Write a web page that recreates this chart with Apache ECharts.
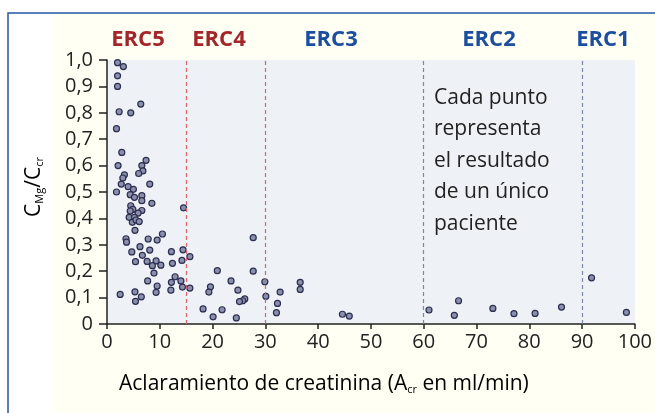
<!DOCTYPE html>
<html>
<head>
<meta charset="utf-8">
<script src="https://cdn.jsdelivr.net/npm/echarts@6/dist/echarts.min.js"></script>
<style>html,body{margin:0;padding:0;background:#fff}#c{width:655px;height:413px}</style>
</head>
<body>
<div id="c"></div>
<script>
// Creatinine clearance (ml/min) for each patient
const clearance = [
  2.0, 3.1, 2.0, 2.0, 6.4, 2.3, 4.5, 1.8, 2.8, 7.4,
  2.1, 6.6, 6.8, 3.3, 6.0, 3.0, 8.1, 2.7, 4.0, 5.0,
  1.8, 4.4, 5.2, 6.6, 6.6, 8.5, 4.5, 4.9, 4.4, 6.6,
  5.9, 14.5, 4.2, 5.2, 4.8, 5.5, 6.1, 5.3, 10.5, 7.8,
  9.5, 3.6, 3.7, 6.25, 8.1, 4.7, 12.2, 14.4, 6.7, 15.7,
  5.4, 7.6, 9.3, 12.4, 14.2, 8.6, 10.2, 8.9, 12.9, 7.7,
  12.2, 14.0, 9.5, 14.3, 15.7, 12.1, 9.3, 5.3, 2.5, 6.5,
  5.4, 18.2, 27.7, 20.9, 27.7, 23.5, 29.9, 36.6, 36.6, 19.6,
  19.3, 24.8, 32.8, 30.1, 26.1, 25.7, 25.1, 32.3, 21.8, 32.1,
  20.1, 24.5, 44.6, 45.9, 91.8, 61.0, 66.6, 65.8, 73.1, 77.1,
  81.1, 86.1, 98.4
];
// CMg/Ccr ratio for each patient
const ratio = [
  0.99, 0.975, 0.94, 0.90, 0.833, 0.804, 0.80, 0.74, 0.65, 0.62,
  0.60, 0.60, 0.58, 0.565, 0.57, 0.553, 0.53, 0.53, 0.52, 0.51,
  0.50, 0.49, 0.48, 0.486, 0.467, 0.457, 0.448, 0.434, 0.428, 0.43,
  0.42, 0.44, 0.404, 0.404, 0.385, 0.394, 0.388, 0.355, 0.341, 0.322,
  0.318, 0.323, 0.31, 0.293, 0.28, 0.273, 0.274, 0.281, 0.26, 0.255,
  0.236, 0.237, 0.239, 0.23, 0.241, 0.221, 0.223, 0.193, 0.179, 0.163,
  0.158, 0.163, 0.144, 0.14, 0.136, 0.128, 0.12, 0.122, 0.112, 0.103,
  0.086, 0.057, 0.327, 0.202, 0.20, 0.163, 0.16, 0.158, 0.131, 0.141,
  0.121, 0.128, 0.121, 0.105, 0.095, 0.088, 0.085, 0.078, 0.054, 0.043,
  0.027, 0.023, 0.037, 0.03, 0.175, 0.053, 0.088, 0.033, 0.059, 0.039,
  0.04, 0.064, 0.044
];
// Stage boundaries and labels
const stageLimits = [15, 30, 60, 90];
const stageNames = ['ERC5', 'ERC4', 'ERC3', 'ERC2', 'ERC1'];
const stageLabelX = [138, 219, 331, 489, 603];
const stageColors = ['#a3262a', '#a3262a', '#1c4e9e', '#1c4e9e', '#1c4e9e'];
const limitColors = ['#d9646b', '#d9646b', '#7c87a6', '#7c87a6'];
const noteLines = ['Cada punto', 'representa', 'el resultado', 'de un único', 'paciente'];

const FONT = '"Open Sans", "Noto Sans", sans-serif';
const points = clearance.map((x, i) => [x, ratio[i]]);

const graphics = [
  {type: 'rect', z: -10, shape: {x: 0, y: 0, width: 655, height: 413}, style: {fill: '#ffffff'}},
  {type: 'rect', z: -9, shape: {x: 53, y: 14, width: 610, height: 410}, style: {fill: '#fffff3'}},
  {type: 'rect', z: -8, shape: {x: 8, y: 13, width: 700, height: 500}, style: {fill: 'none', stroke: '#2557a7', lineWidth: 1.5}}
];
stageNames.forEach((n, i) => {
  graphics.push({type: 'text', z: 50, x: stageLabelX[i], y: 40,
    style: {text: n, font: 'bold 22px ' + FONT, fill: stageColors[i], textAlign: 'center', textVerticalAlign: 'middle'}});
});
graphics.push({type: 'text', z: 50, x: 434, y: 82,
  style: {text: noteLines.join('\n'), font: '21px ' + FONT, fill: '#222', lineHeight: 31.5,
    textAlign: 'left', textVerticalAlign: 'top'}});
graphics.push({type: 'text', z: 50, x: 119, y: 383,
  style: {
    text: '{m|Aclaramiento de creatinina (A}{s|cr}{m| en ml/min)}',
    rich: {
      m: {fontSize: 21, fontFamily: FONT, color: '#222', lineHeight: 24, verticalAlign: 'bottom'},
      s: {fontSize: 11, fontFamily: FONT, color: '#222', lineHeight: 8, verticalAlign: 'bottom'}
    },
    textAlign: 'left', textVerticalAlign: 'middle'
  }});
graphics.push({type: 'text', z: 50, x: 33, y: 187, rotation: Math.PI / 2,
  style: {
    text: '{m|C}{s|Mg}{m|/C}{s|cr}',
    rich: {
      m: {fontSize: 21, fontFamily: FONT, color: '#222', lineHeight: 24, verticalAlign: 'bottom'},
      s: {fontSize: 11, fontFamily: FONT, color: '#222', lineHeight: 7, verticalAlign: 'bottom'}
    },
    textAlign: 'center', textVerticalAlign: 'middle'
  }});

const chart = echarts.init(document.getElementById('c'), null, {renderer: 'canvas'});
chart.setOption({
  animation: false,
  backgroundColor: 'transparent',
  graphic: graphics,
  grid: {left: 107, right: 20, top: 60, bottom: 89, show: true, backgroundColor: '#eef1f5', borderWidth: 0},
  xAxis: {
    type: 'value', min: 0, max: 100, interval: 10,
    axisLine: {show: true, lineStyle: {color: '#222', width: 1.5}},
    axisTick: {show: true, length: 5, lineStyle: {color: '#222', width: 1.5}},
    axisLabel: {color: '#222', fontSize: 20, fontFamily: FONT, margin: 8},
    splitLine: {show: false}
  },
  yAxis: {
    type: 'value', min: 0, max: 1, interval: 0.1,
    axisLine: {show: true, lineStyle: {color: '#222', width: 1.5}},
    axisTick: {show: true, length: 8, lineStyle: {color: '#222', width: 1.5}},
    axisLabel: {color: '#222', fontSize: 20, fontFamily: FONT, margin: 14,
      formatter: v => v === 0 ? '0' : v.toFixed(1).replace('.', ',')},
    splitLine: {show: false}
  },
  series: [{
    type: 'scatter',
    data: points,
    symbol: 'circle',
    symbolSize: 6,
    itemStyle: {color: '#8a90ab', borderColor: '#2b2e50', borderWidth: 1.2, opacity: 1},
    markLine: {
      silent: true, symbol: 'none', label: {show: false},
      data: stageLimits.map((v, i) => ({xAxis: v, lineStyle: {color: limitColors[i], type: [4, 3], width: 1.2}}))
    }
  }]
});
</script>
</body>
</html>
